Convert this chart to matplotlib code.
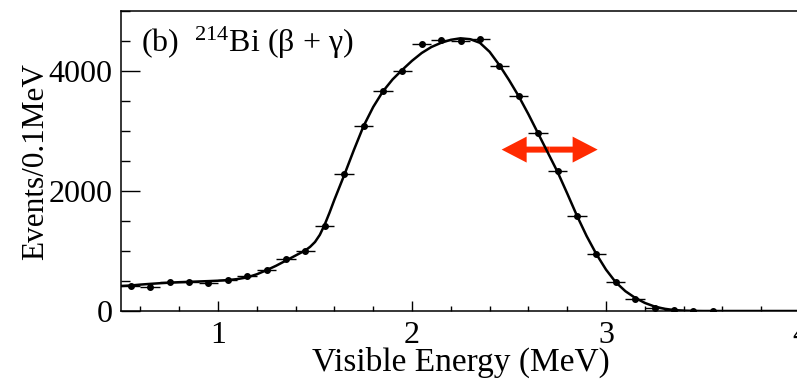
import numpy as np
import matplotlib
matplotlib.use("Agg")
import matplotlib.pyplot as plt
from matplotlib.ticker import MultipleLocator

plt.rcParams["font.family"] = ["Liberation Serif", "DejaVu Serif"]
plt.rcParams["mathtext.fontset"] = "custom"
plt.rcParams["mathtext.rm"] = "Liberation Serif"
plt.rcParams["mathtext.it"] = "Liberation Serif:italic"

# Binned event counts (0.1 MeV bins)
bin_centers = [0.55, 0.65, 0.75, 0.85, 0.95, 1.05, 1.15, 1.25, 1.35, 1.45,
               1.55, 1.65, 1.75, 1.85, 1.95, 2.05, 2.15, 2.25, 2.35, 2.45,
               2.55, 2.65, 2.75, 2.85, 2.95, 3.05, 3.15, 3.25, 3.35, 3.45, 3.55]
counts = [417, 405, 478, 478, 472, 522, 588, 683, 867, 1005,
          1411, 2290, 3090, 3670, 4005, 4445, 4510, 4505, 4533, 4090,
          3583, 2961, 2333, 1583, 950, 478, 195, 45, 12, 3, 1]
bin_half_width = 0.05

# Fitted spectrum
model_energy = [0.50, 0.55, 0.60, 0.65, 0.70, 0.75, 0.80, 0.85, 0.90, 0.95,
                1.00, 1.05, 1.10, 1.15, 1.20, 1.25, 1.30, 1.35, 1.40, 1.45,
                1.475, 1.50, 1.525, 1.55, 1.575, 1.60, 1.65, 1.70, 1.75, 1.80,
                1.85, 1.90, 1.95, 2.00, 2.05, 2.10, 2.15, 2.20, 2.25, 2.30,
                2.35, 2.40, 2.45, 2.50, 2.55, 2.60, 2.65, 2.70, 2.75, 2.80,
                2.85, 2.90, 2.95, 3.00, 3.05, 3.10, 3.15, 3.20, 3.25, 3.30,
                3.35, 3.40, 3.45, 3.50, 3.60, 4.00]
model_counts = [417, 425, 440, 452, 463, 472, 480, 486, 492, 498,
                505, 515, 532, 560, 612, 680, 755, 840, 925, 1010,
                1070, 1150, 1270, 1440, 1640, 1855, 2260, 2680, 3080, 3400,
                3660, 3860, 4020, 4170, 4300, 4400, 4470, 4520, 4545, 4530,
                4470, 4320, 4100, 3850, 3580, 3280, 2960, 2640, 2320, 1960,
                1590, 1250, 950, 690, 480, 330, 220, 135, 75, 38,
                16, 6, 2, 0, 0, 0]

# Energy-scale shift indicator
shift_left, shift_right, shift_level = 2.462, 2.957, 2690
arrow_color = "#ff2a00"

fig = plt.figure(figsize=(7.97, 3.83), dpi=100)
ax = fig.add_axes([121 / 797, 72 / 383, 679 / 797, 300 / 383])

mid = 0.5 * (shift_left + shift_right)
for end in (shift_left, shift_right):
    ax.arrow(mid, shift_level, end - mid, 0, width=100, head_width=433,
             head_length=0.129, length_includes_head=True,
             color=arrow_color, lw=0, zorder=2)

ax.plot(model_energy, model_counts, color="black", lw=1.8, zorder=3,
        solid_joinstyle="round")
ax.errorbar(bin_centers, counts, xerr=bin_half_width, fmt="o", ms=4,
            color="black", ecolor="black", elinewidth=1.0, capsize=0, zorder=4)

ax.set_xlim(0.5, 4.0)
ax.set_ylim(0, 5000)

ax.xaxis.set_major_locator(MultipleLocator(1))
ax.xaxis.set_minor_locator(MultipleLocator(0.2))
ax.yaxis.set_major_locator(MultipleLocator(2000))
ax.yaxis.set_minor_locator(MultipleLocator(500))

ax.tick_params(axis="x", which="major", direction="in", length=7.2, width=1.0,
               labelsize=23, pad=7, top=False)
ax.tick_params(axis="x", which="minor", direction="in", length=3.6, width=1.0,
               top=False)
ax.tick_params(axis="y", which="major", direction="in", length=13.7, width=1.0,
               labelsize=23, pad=6, right=False)
ax.tick_params(axis="y", which="minor", direction="in", length=6.5, width=1.0,
               right=False)

for side in ("left", "bottom", "top", "right"):
    ax.spines[side].set_linewidth(1.1)

ax.set_xlabel("Visible Energy (MeV)", fontsize=24, labelpad=-2)
ax.set_ylabel("Events/0.1MeV", fontsize=22.5, labelpad=-1)

ax.text(0.03, 0.955, r"(b)  $^{214}$Bi (β + γ)", transform=ax.transAxes,
        fontsize=23, ha="left", va="top")

fig.savefig("out.png", dpi=100)
